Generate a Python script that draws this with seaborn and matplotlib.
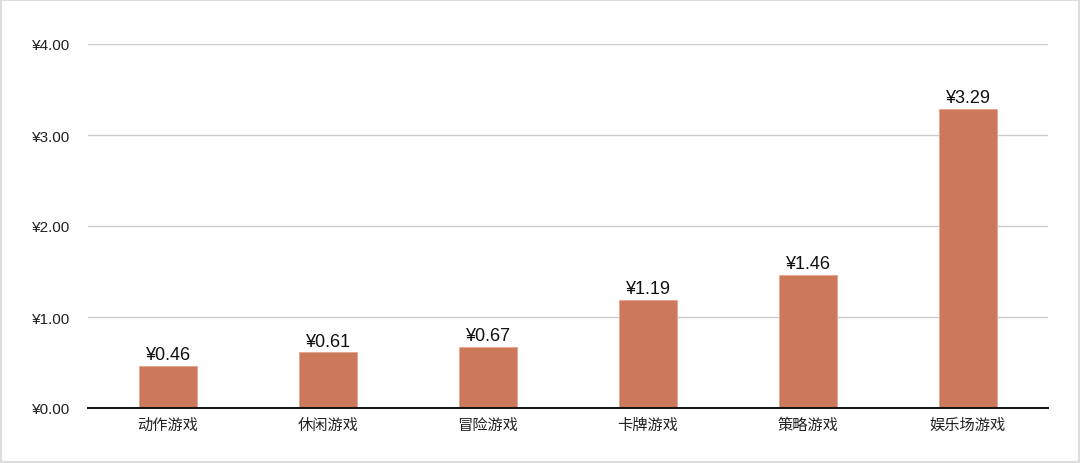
import matplotlib
matplotlib.use("Agg")
import matplotlib.pyplot as plt
import seaborn as sns
import pandas as pd
from matplotlib.patches import Rectangle

categories = ["动作游戏", "休闲游戏", "冒险游戏", "卡牌游戏", "策略游戏", "娱乐场游戏"]
values = [0.46, 0.61, 0.67, 1.19, 1.46, 3.29]
ytick_values = [0, 1, 2, 3, 4]
ytick_labels = ["¥0.00", "¥1.00", "¥2.00", "¥3.00", "¥4.00"]

sns.set_theme(style="white")
plt.rcParams['font.family'] = ['Liberation Sans', 'Noto Sans CJK SC', 'DejaVu Sans']

df = pd.DataFrame({"cat": categories, "val": values})

fig = plt.figure(figsize=(10.8, 4.64), dpi=100)
ax = fig.add_axes([88/1080, 55/464, 960/1080, 364/464])

sns.barplot(data=df, x="cat", y="val", color="#CC785A", saturation=1,
            width=0.36, ax=ax, edgecolor="#E8A58C", linewidth=0.6, zorder=3)

ax.set_xlim(-0.5, len(categories) - 0.5)
ax.set_ylim(0, 4)
ax.set_yticks(ytick_values)
ax.set_yticklabels(ytick_labels)
ax.set_xlabel("")
ax.set_ylabel("")
ax.yaxis.grid(True, color="#CCCCCC", linewidth=1, zorder=0)
ax.set_axisbelow(True)
for s in ["top", "right", "left"]:
    ax.spines[s].set_visible(False)
ax.spines["bottom"].set_color("#111111")
ax.spines["bottom"].set_linewidth(1.4)
ax.spines["bottom"].set_zorder(5)
ax.tick_params(axis="y", length=0, pad=13, labelsize=11, labelcolor="#222222")
ax.tick_params(axis="x", length=0, pad=7, labelsize=11, labelcolor="#222222")

for i, v in enumerate(values):
    ax.annotate(f"¥{v:.2f}", (i, v), xytext=(0, 2), textcoords="offset points",
                ha="center", va="bottom", fontsize=13, color="#111111")

fig.patches.append(Rectangle((0, 0), 1, 1, transform=fig.transFigure,
                             fill=False, edgecolor="#DDDDDD", linewidth=3))

fig.savefig("out.png", dpi=100, facecolor="white")
